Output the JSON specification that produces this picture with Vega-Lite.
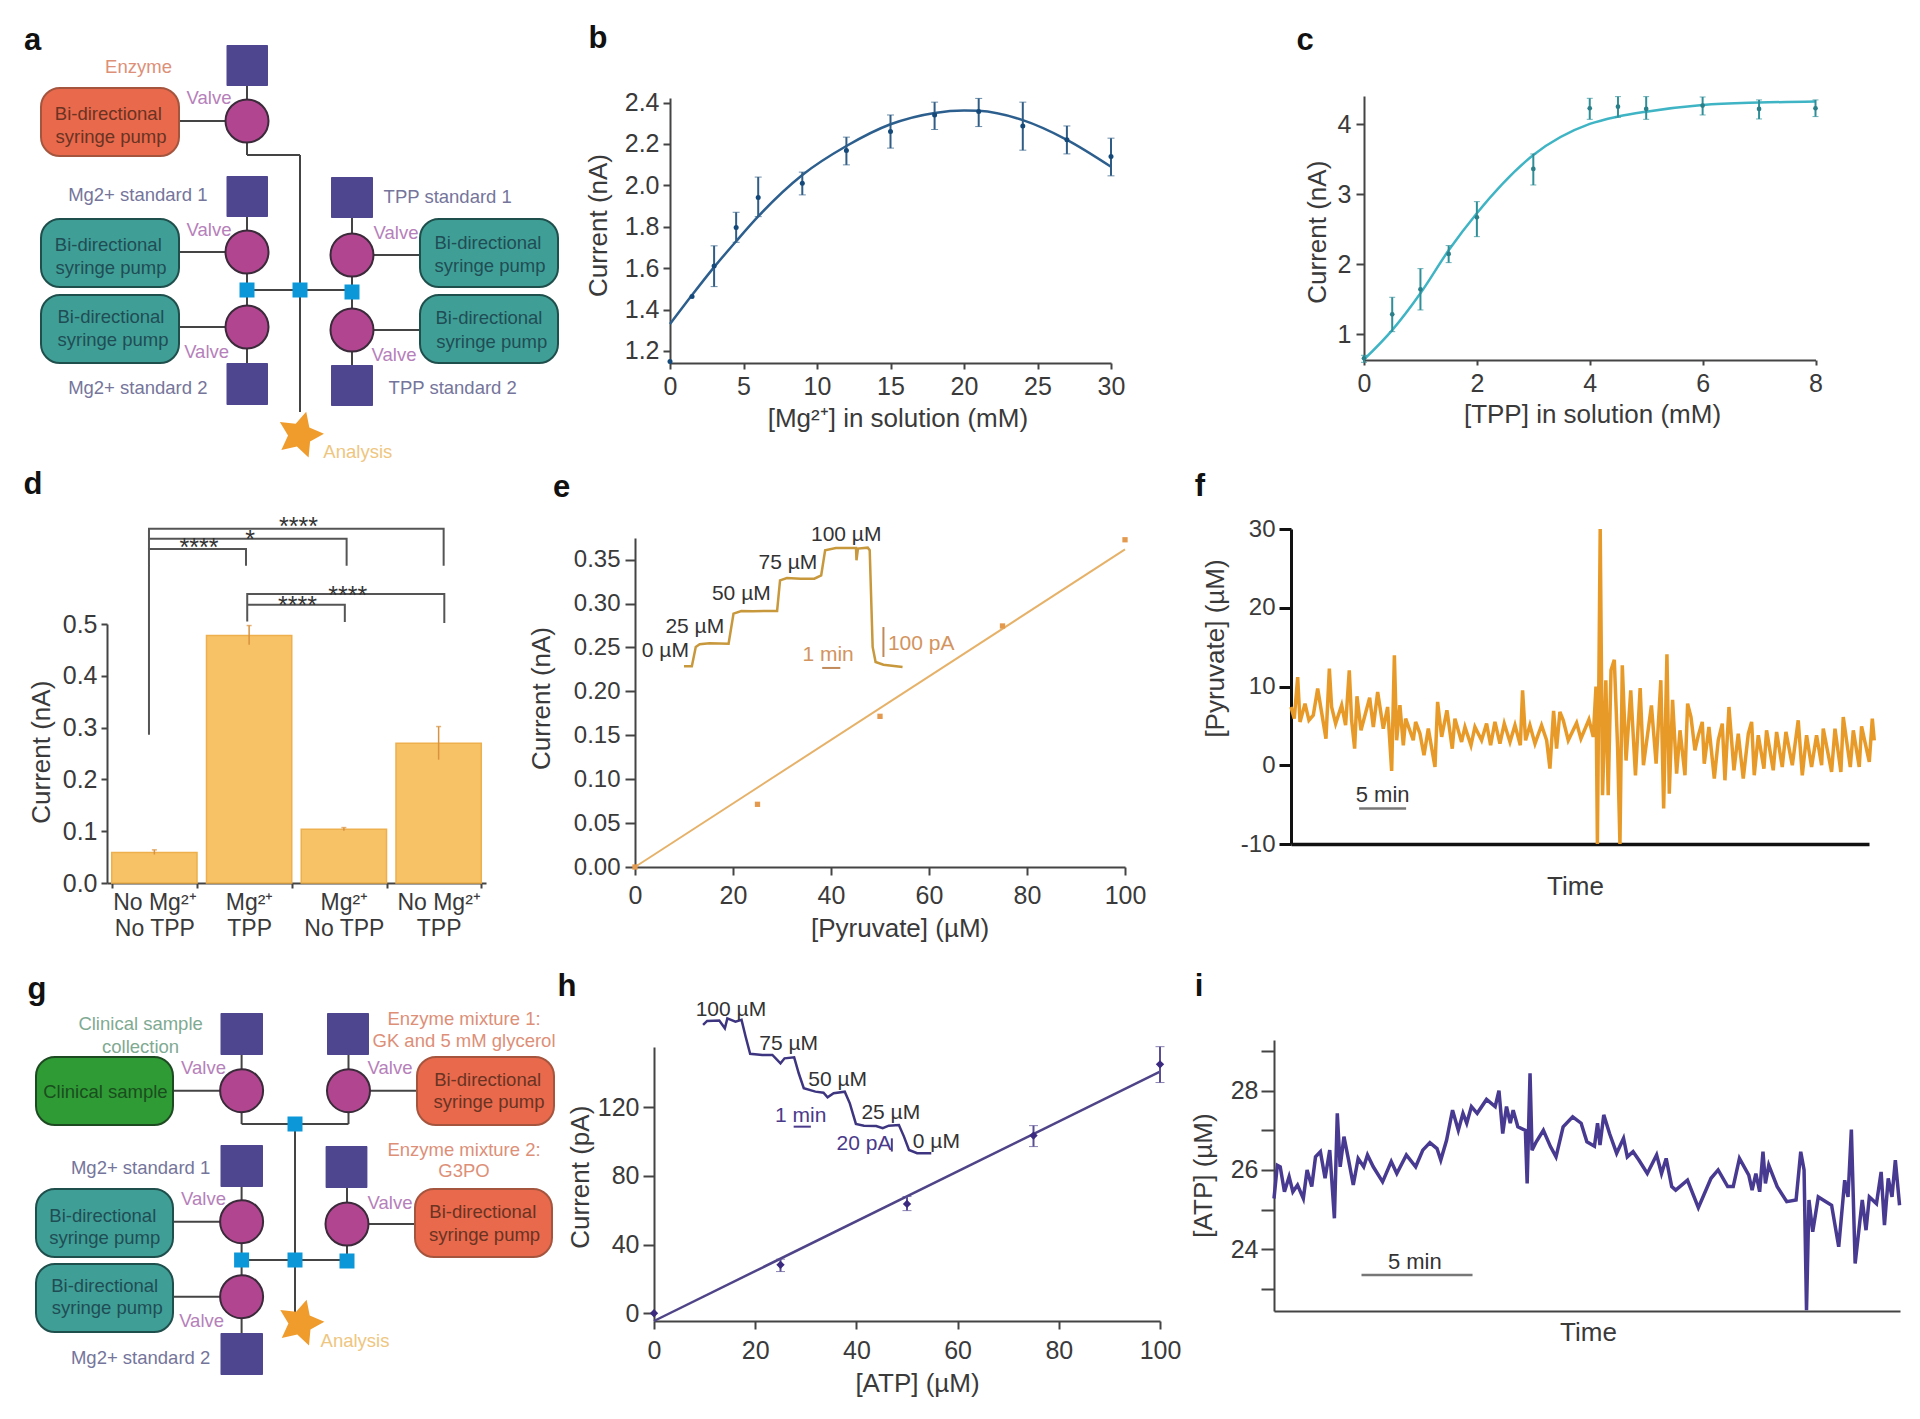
{"$schema":"https://vega.github.io/schema/vega-lite/v6.json","padding":0,"background":"white","bounds":"flush","spacing":{"row":87,"column":0},"columns":3,
"config":{"font":"Liberation Sans","view":{"stroke":null},"axis":{"grid":false,"labelFontSize":25,"titleFontSize":26,"titleFontWeight":"normal","labelColor":"#3a3a3a","titleColor":"#3a3a3a","domainColor":"#444","tickColor":"#444","domainWidth":2,"tickWidth":2,"labelOverlap":false,"labelFlush":false,"titleBaseline":"middle"},"text":{"font":"Liberation Sans"}},
"concat":[
{"width":630,"height":442,
"encoding":{"x":{"field":"x","type":"quantitative","scale":{"domain":[0,630]},"axis":null},"y":{"field":"y","type":"quantitative","scale":{"domain":[0,442],"reverse":true},"axis":null},
"color":{"field":"kind","type":"nominal","legend":null,"scale":{"domain":["enzyme pump","standard pump","sample pump","reagent","valve","junction","star","link","text valve","text enzyme","text standard","text analysis","text sample","text teal","text red","text green","letter"],"range":["#e9694c","#3f9f96","#2f9b35","#4e4790","#b2458f","#0b97d8","#f09c2d","#444444","#b680ba","#dd8f78","#75759b","#eec67f","#7faa92","#1f4d55","#6a3322","#1a4d1e","#111111"]}}},
"layer":[
{"data":{"values":[{"kind":"link","x":179,"x2":226,"y":121,"y2":121},{"kind":"link","x":247,"x2":247,"y":86,"y2":100},{"kind":"link","x":247,"x2":247,"y":142,"y2":155},{"kind":"link","x":247,"x2":300,"y":155,"y2":155},{"kind":"link","x":300,"x2":300,"y":155,"y2":412},{"kind":"link","x":247,"x2":352,"y":290,"y2":290},{"kind":"link","x":247,"x2":247,"y":272,"y2":310},{"kind":"link","x":352,"x2":352,"y":272,"y2":312},{"kind":"link","x":247,"x2":247,"y":217,"y2":232},{"kind":"link","x":352,"x2":352,"y":218,"y2":235},{"kind":"link","x":179,"x2":226,"y":252,"y2":252},{"kind":"link","x":179,"x2":226,"y":327,"y2":327},{"kind":"link","x":373,"x2":420,"y":255,"y2":255},{"kind":"link","x":373,"x2":420,"y":330,"y2":330},{"kind":"link","x":247,"x2":247,"y":348,"y2":363},{"kind":"link","x":352,"x2":352,"y":350,"y2":365}]},"mark":{"type":"rule","strokeWidth":2},"encoding":{"x2":{"field":"x2"},"y2":{"field":"y2"}}},
{"data":{"values":[{"kind":"enzyme pump","x":41,"x2":179,"y":88,"y2":156},{"kind":"standard pump","x":41,"x2":179,"y":219,"y2":287},{"kind":"standard pump","x":41,"x2":179,"y":295,"y2":363},{"kind":"standard pump","x":420,"x2":558,"y":219,"y2":287},{"kind":"standard pump","x":420,"x2":558,"y":295,"y2":363}]},"mark":{"type":"rect","cornerRadius":19,"strokeWidth":2},"encoding":{"x2":{"field":"x2"},"y2":{"field":"y2"},"stroke":{"field":"kind","type":"nominal","legend":null,"scale":{"domain":["enzyme pump","standard pump","sample pump","reagent"],"range":["#a5553e","#1f4f4c","#1e4a22","#3c3872"]}}}},
{"data":{"values":[{"kind":"reagent","x":226.5,"x2":268,"y":45,"y2":86},{"kind":"reagent","x":226.5,"x2":268,"y":176,"y2":217},{"kind":"reagent","x":226.5,"x2":268,"y":363,"y2":405},{"kind":"reagent","x":331,"x2":373,"y":177,"y2":218},{"kind":"reagent","x":331,"x2":373,"y":365,"y2":406}]},"mark":{"type":"rect","cornerRadius":1},"encoding":{"x2":{"field":"x2"},"y2":{"field":"y2"}}},
{"data":{"values":[{"kind":"valve","x":247,"y":121},{"kind":"valve","x":247,"y":252},{"kind":"valve","x":247,"y":327},{"kind":"valve","x":352,"y":255},{"kind":"valve","x":352,"y":330}]},"mark":{"type":"point","shape":"circle","filled":true,"opacity":1,"size":1850,"stroke":"#3a2a3a","strokeWidth":2}},
{"data":{"values":[{"kind":"junction","x":247,"y":290},{"kind":"junction","x":300,"y":290},{"kind":"junction","x":352,"y":292}]},"mark":{"type":"point","shape":"square","filled":true,"opacity":1,"size":225}},
{"data":{"values":[{"kind":"star","x":300,"y":435}]},"mark":{"type":"point","shape":"M.259,-.966L.389,-.315L.999,-.052L.419,.272L.358,.934L-.129,.483L-.777,.629L-.499,.026L-.839,-.545L-.179,-.467Z","filled":true,"opacity":1,"size":2304}},
{"data":{"values":[{"kind":"text enzyme","x":138.5,"y":66.7,"label":"Enzyme"},{"kind":"text valve","x":209,"y":97.7,"label":"Valve"},{"kind":"text red","x":108.3,"y":114.3,"label":"Bi-directional"},{"kind":"text red","x":111,"y":136.7,"label":"syringe pump"},{"kind":"text standard","x":137.8,"y":195,"label":"Mg2+ standard 1"},{"kind":"text valve","x":209,"y":230,"label":"Valve"},{"kind":"text teal","x":108.3,"y":245,"label":"Bi-directional"},{"kind":"text teal","x":111,"y":267.7,"label":"syringe pump"},{"kind":"text standard","x":447.7,"y":196.7,"label":"TPP standard 1"},{"kind":"text valve","x":396,"y":233.3,"label":"Valve"},{"kind":"text teal","x":488,"y":243.3,"label":"Bi-directional"},{"kind":"text teal","x":490,"y":265.7,"label":"syringe pump"},{"kind":"text teal","x":111,"y":316.7,"label":"Bi-directional"},{"kind":"text teal","x":113,"y":340,"label":"syringe pump"},{"kind":"text valve","x":206.6,"y":351.7,"label":"Valve"},{"kind":"text standard","x":137.8,"y":388.3,"label":"Mg2+ standard 2"},{"kind":"text teal","x":489,"y":318.3,"label":"Bi-directional"},{"kind":"text teal","x":491.7,"y":341.7,"label":"syringe pump"},{"kind":"text valve","x":394,"y":355,"label":"Valve"},{"kind":"text standard","x":452.7,"y":388.3,"label":"TPP standard 2"},{"kind":"text analysis","x":357.8,"y":451.7,"label":"Analysis"}]},"mark":{"type":"text","fontSize":18.5,"baseline":"middle"},"encoding":{"text":{"field":"label"}}},
{"data":{"values":[{"kind":"letter","x":32.5,"y":41,"label":"a"}]},"mark":{"type":"text","fontSize":31,"fontWeight":"bold","baseline":"middle"},"encoding":{"text":{"field":"label"}}}
]},
{"width":640,"height":363,
"encoding":{"x":{"field":"x","type":"quantitative","scale":{"domain":[0,30],"range":[40,481]},"axis":{"values":[0,5,10,15,20,25,30],"title":"[Mg²⁺] in solution (mM)","titleX":267.4,"titleY":55,"tickSize":6,"labelPadding":5}},"y":{"field":"y","type":"quantitative","scale":{"domain":[1.142,2.422],"range":[363,98]},"axis":{"values":[1.2,1.4,1.6,1.8,2.0,2.2,2.4],"format":".1f","title":"Current (nA)","offset":-40,"titleX":-72,"titleY":225,"tickSize":7,"labelPadding":4}}},
"layer":[
{"data":{"values":[{"x":0,"y":1.33},{"x":1.5,"y":1.47},{"x":3,"y":1.605},{"x":4.5,"y":1.73},{"x":6,"y":1.85},{"x":9,"y":2.05},{"x":12,"y":2.19},{"x":15,"y":2.295},{"x":18,"y":2.35},{"x":20,"y":2.362},{"x":21,"y":2.36},{"x":24,"y":2.315},{"x":27,"y":2.22},{"x":30,"y":2.09}]},"mark":{"type":"line","color":"#2d5f8e","strokeWidth":2.5,"interpolate":"monotone"}},
{"data":{"values":[{"x":3,"y":1.511,"y2":1.708},{"x":4.5,"y":1.725,"y2":1.87},{"x":6,"y":1.849,"y2":2.04},{"x":9,"y":1.954,"y2":2.064},{"x":12,"y":2.099,"y2":2.233},{"x":15,"y":2.18,"y2":2.34},{"x":18,"y":2.27,"y2":2.402},{"x":21,"y":2.284,"y2":2.42},{"x":24,"y":2.17,"y2":2.402},{"x":27,"y":2.152,"y2":2.287},{"x":30,"y":2.046,"y2":2.228}]},"mark":{"type":"errorbar","ticks":{"size":7,"color":"#2f5d85"},"rule":{"color":"#2f5d85","strokeWidth":2}},"encoding":{"y2":{"field":"y2"}}},
{"data":{"values":[{"x":0,"y":1.149},{"x":1.5,"y":1.463},{"x":3,"y":1.61},{"x":4.5,"y":1.796},{"x":6,"y":1.941},{"x":9,"y":2.01},{"x":12,"y":2.168},{"x":15,"y":2.26},{"x":18,"y":2.34},{"x":21,"y":2.357},{"x":24,"y":2.287},{"x":27,"y":2.22},{"x":30,"y":2.139}]},"mark":{"type":"point","filled":true,"opacity":1,"color":"#14497a","size":25}},
{"data":{"values":[{"x":-4.9,"y":2.708,"label":"b"}]},"mark":{"type":"text","fontSize":31,"fontWeight":"bold","baseline":"middle","color":"#111"},"encoding":{"text":{"field":"label"}}}
]},
{"width":650,"height":360,
"encoding":{"x":{"field":"x","type":"quantitative","scale":{"domain":[0,8],"range":[94,545.5]},"axis":{"values":[0,2,4,6,8],"title":"[TPP] in solution (mM)","titleX":322,"titleY":54,"tickSize":5,"labelPadding":6}},"y":{"field":"y","type":"quantitative","scale":{"domain":[0.633,4.404],"range":[360,96]},"axis":{"values":[1,2,3,4],"format":"d","title":"Current (nA)","offset":-94,"titleX":-47,"titleY":231.7,"tickSize":8,"labelPadding":5}}},
"layer":[
{"data":{"values":[{"x":0,"y":0.64},{"x":0.5,"y":1.06},{"x":1,"y":1.586},{"x":1.5,"y":2.2},{"x":2,"y":2.73},{"x":3,"y":3.56},{"x":4,"y":4.005},{"x":4.5,"y":4.11},{"x":5,"y":4.18},{"x":6,"y":4.276},{"x":7,"y":4.31},{"x":8,"y":4.324}]},"mark":{"type":"line","color":"#3fb4c4","strokeWidth":2.5,"interpolate":"monotone"}},
{"data":{"values":[{"x":0,"y":0.6,"y2":0.7},{"x":0.5,"y":1.038,"y2":1.529},{"x":1,"y":1.348,"y2":1.938},{"x":1.5,"y":2.024,"y2":2.267},{"x":2,"y":2.395,"y2":2.895},{"x":3,"y":3.133,"y2":3.576},{"x":4,"y":4.071,"y2":4.371},{"x":4.5,"y":4.1,"y2":4.395},{"x":5,"y":4.071,"y2":4.395},{"x":6,"y":4.133,"y2":4.39},{"x":7,"y":4.076,"y2":4.348},{"x":8,"y":4.11,"y2":4.348}]},"mark":{"type":"errorbar","ticks":{"size":6,"color":"#2f8f98"},"rule":{"color":"#2f8f98","strokeWidth":2}},"encoding":{"y2":{"field":"y2"}}},
{"data":{"values":[{"x":0,"y":0.657},{"x":0.5,"y":1.286},{"x":1,"y":1.643},{"x":1.5,"y":2.148},{"x":2,"y":2.671},{"x":3,"y":3.362},{"x":4,"y":4.229},{"x":4.5,"y":4.252},{"x":5,"y":4.219},{"x":6,"y":4.267},{"x":7,"y":4.219},{"x":8,"y":4.229}]},"mark":{"type":"point","filled":true,"opacity":1,"color":"#2a7f88","size":22}},
{"data":{"values":[{"x":-1.045,"y":5.19,"label":"c"}]},"mark":{"type":"text","fontSize":31,"fontWeight":"bold","baseline":"middle","color":"#111"},"encoding":{"text":{"field":"label"}}}
]},
{"width":630,"height":354,"resolve":{"scale":{"x":"independent"}},
"encoding":{"y":{"field":"y","type":"quantitative","scale":{"domain":[0,0.5],"range":[354,95]},"axis":{"values":[0,0.1,0.2,0.3,0.4,0.5],"format":".1f","title":"Current (nA)","offset":-107,"titleX":-65.5,"titleY":222.7,"tickSize":6,"labelPadding":4}}},
"layer":[
{"data":{"values":[{"c":"No Mg²⁺|No TPP","y":0.059},{"c":"Mg²⁺|TPP","y":0.478},{"c":"Mg²⁺|No TPP","y":0.104},{"c":"No Mg²⁺|TPP","y":0.27}]},"mark":{"type":"bar","fill":"#f7c266","stroke":"#edb04c","strokeWidth":1.5},"encoding":{"x":{"field":"c","type":"nominal","sort":null,"scale":{"domain":["No Mg²⁺|No TPP","Mg²⁺|TPP","Mg²⁺|No TPP","No Mg²⁺|TPP"],"range":[107,486],"paddingInner":0.1,"paddingOuter":0.05},"axis":{"title":null,"labelExpr":"split(datum.label,'|')","labelAngle":0,"tickBand":"extent","tickSize":5,"labelFontSize":23,"labelLineHeight":26,"labelPadding":3,"labelLimit":0}}}},
{"data":{"values":[{"q":0.5,"y":0.055,"y2":0.064},{"q":1.5,"y":0.46,"y2":0.497},{"q":2.5,"y":0.101,"y2":0.107},{"q":3.5,"y":0.238,"y2":0.302}]},"mark":{"type":"rule","color":"#d9923f","strokeWidth":1.5},"encoding":{"x":{"field":"q","type":"quantitative","scale":{"domain":[0,4],"range":[107,486]},"axis":null},"y2":{"field":"y2"}}},
{"data":{"values":[{"q":0.5,"y":0.064},{"q":1.5,"y":0.497},{"q":2.5,"y":0.107},{"q":3.5,"y":0.302}]},"mark":{"type":"tick","orient":"horizontal","color":"#d9923f","size":5,"thickness":1.5},"encoding":{"x":{"field":"q","type":"quantitative","scale":{"domain":[0,4],"range":[107,486]},"axis":null}}},
{"data":{"values":[{"id":1,"n":1,"q":0.443,"y":0.2863},{"id":1,"n":2,"q":0.443,"y":0.6448},{"id":1,"n":3,"q":1.467,"y":0.6448},{"id":1,"n":4,"q":1.467,"y":0.6126},{"id":2,"n":1,"q":0.443,"y":0.6647},{"id":2,"n":2,"q":2.529,"y":0.6647},{"id":2,"n":3,"q":2.529,"y":0.6126},{"id":3,"n":1,"q":0.443,"y":0.6448},{"id":3,"n":2,"q":0.443,"y":0.684},{"id":3,"n":3,"q":3.553,"y":0.684},{"id":3,"n":4,"q":3.553,"y":0.6126},{"id":4,"n":1,"q":1.48,"y":0.505},{"id":4,"n":2,"q":1.48,"y":0.558},{"id":4,"n":3,"q":3.56,"y":0.558},{"id":4,"n":4,"q":3.56,"y":0.502},{"id":5,"n":1,"q":1.48,"y":0.5373},{"id":5,"n":2,"q":2.51,"y":0.5373},{"id":5,"n":3,"q":2.51,"y":0.504}]},"mark":{"type":"line","color":"#555","strokeWidth":2},"encoding":{"x":{"field":"q","type":"quantitative","scale":{"domain":[0,4],"range":[107,486]},"axis":null},"detail":{"field":"id"},"order":{"field":"n"}}},
{"data":{"values":[{"q":2.02,"y":0.688,"s":"****"},{"q":1.51,"y":0.663,"s":"*"},{"q":0.97,"y":0.646,"s":"****"},{"q":2.54,"y":0.555,"s":"****"},{"q":2.01,"y":0.534,"s":"****"}]},"mark":{"type":"text","fontSize":25,"color":"#333"},"encoding":{"x":{"field":"q","type":"quantitative","scale":{"domain":[0,4],"range":[107,486]},"axis":null},"text":{"field":"s"}}},
{"data":{"values":[{"q":-0.781,"y":0.769,"s":"d"}]},"mark":{"type":"text","fontSize":31,"fontWeight":"bold","baseline":"middle","color":"#111"},"encoding":{"x":{"field":"q","type":"quantitative","scale":{"domain":[0,4],"range":[107,486]},"axis":null},"text":{"field":"s"}}}
]},
{"width":640,"height":338,
"encoding":{"x":{"field":"x","type":"quantitative","scale":{"domain":[0,100],"range":[5,495]},"axis":{"values":[0,20,40,60,80,100],"title":"[Pyruvate] (µM)","titleX":269.6,"titleY":61,"tickSize":8,"labelPadding":8}},"y":{"field":"y","type":"quantitative","scale":{"domain":[0,0.3747],"range":[338,9]},"axis":{"values":[0,0.05,0.1,0.15,0.2,0.25,0.3,0.35],"format":".2f","title":"Current (nA)","offset":-5,"titleX":-93.3,"titleY":169,"tickSize":10,"labelPadding":5,"labelFontSize":24}}},
"layer":[
{"data":{"values":[{"x":0,"y":0},{"x":100,"y":0.3618}]},"mark":{"type":"line","color":"#e6b26a","strokeWidth":2}},
{"data":{"values":[{"x":0,"y":0},{"x":25,"y":0.0714},{"x":50,"y":0.1716},{"x":75,"y":0.2745},{"x":100,"y":0.3727}]},"mark":{"type":"point","shape":"square","filled":true,"opacity":1,"color":"#e39a4e","size":28}},
{"data":{"values":[{"x":10,"y":0.2286},{"x":11.6,"y":0.2286},{"x":12.4,"y":0.2506},{"x":13.2,"y":0.2536},{"x":15.2,"y":0.2547},{"x":19.1,"y":0.2544},{"x":20.1,"y":0.2885},{"x":21.7,"y":0.2916},{"x":24.1,"y":0.2912},{"x":26.5,"y":0.2916},{"x":29,"y":0.2916},{"x":29.6,"y":0.3265},{"x":31,"y":0.3292},{"x":33.8,"y":0.3284},{"x":36.6,"y":0.3284},{"x":38,"y":0.3322},{"x":38.8,"y":0.3607},{"x":41,"y":0.3633},{"x":44.3,"y":0.3633},{"x":45.1,"y":0.3633},{"x":45.2,"y":0.3493},{"x":45.5,"y":0.3626},{"x":47.5,"y":0.3637},{"x":47.9,"y":0.3607},{"x":48.5,"y":0.2506},{"x":49.1,"y":0.2335},{"x":50.7,"y":0.2304},{"x":54.6,"y":0.2278}]},"mark":{"type":"line","color":"#c8983c","strokeWidth":2.5}},
{"data":{"values":[{"x":38.2,"x2":41.9,"y":0.2267,"y2":0.2267},{"x":50.7,"x2":50.7,"y":0.2733,"y2":0.2392}]},"mark":{"type":"rule","color":"#c08a5a","strokeWidth":2},"encoding":{"x2":{"field":"x2"},"y2":{"field":"y2"}}},
{"data":{"values":[{"x":6.2,"y":0.246,"label":"0 µM"},{"x":12.2,"y":0.2733,"label":"25 µM"},{"x":21.7,"y":0.3106,"label":"50 µM"},{"x":31.2,"y":0.3466,"label":"75 µM"},{"x":43.1,"y":0.3778,"label":"100 µM"}]},"mark":{"type":"text","fontSize":21,"baseline":"middle","color":"#333"},"encoding":{"text":{"field":"label"}}},
{"data":{"values":[{"x":39.4,"y":0.241,"label":"1 min"},{"x":58.4,"y":0.2544,"label":"100 pA"}]},"mark":{"type":"text","fontSize":21,"baseline":"middle","color":"#d3945e"},"encoding":{"text":{"field":"label"}}},
{"data":{"values":[{"x":-15,"y":0.4313,"label":"e"}]},"mark":{"type":"text","fontSize":31,"fontWeight":"bold","baseline":"middle","color":"#111"},"encoding":{"text":{"field":"label"}}}
]},
{"width":650,"height":315,
"encoding":{"x":{"field":"x","type":"quantitative","scale":{"domain":[0,61.5],"range":[21,599]},"axis":{"values":[],"labels":false,"ticks":false,"title":"Time","titleX":305,"titleY":42,"domainColor":"#111","domainWidth":3.5}},"y":{"field":"y","type":"quantitative","scale":{"domain":[-10,30],"range":[315,0]},"axis":{"values":[-10,0,10,20,30],"labelExpr":"''+datum.value","title":"[Pyruvate] (µM)","offset":-21,"titleX":-75.6,"titleY":119,"tickSize":12,"tickColor":"#111","tickWidth":3,"domainColor":"#111","domainWidth":3,"labelPadding":4,"labelFontSize":24}}},
"layer":[
{"data":{"values":[{"x":0,"y":7.4},{"x":0.35,"y":5.92},{"x":0.71,"y":11.2},{"x":0.96,"y":5.5},{"x":1.49,"y":7.83},{"x":1.91,"y":5.71},{"x":2.37,"y":6.35},{"x":2.84,"y":9.73},{"x":3.19,"y":7.19},{"x":3.72,"y":3.38},{"x":4.08,"y":12.27},{"x":4.32,"y":7.4},{"x":4.75,"y":5.29},{"x":5.39,"y":7.62},{"x":5.81,"y":5.08},{"x":6.2,"y":12.06},{"x":6.45,"y":5.71},{"x":6.77,"y":2.11},{"x":7.02,"y":8.76},{"x":7.45,"y":4.44},{"x":7.87,"y":6.35},{"x":8.37,"y":8.59},{"x":8.76,"y":4.86},{"x":9.22,"y":9.31},{"x":9.82,"y":4.65},{"x":10.28,"y":7.4},{"x":10.71,"y":-0.72},{"x":11,"y":13.97},{"x":11.24,"y":3.17},{"x":11.59,"y":7.62},{"x":11.95,"y":2.54},{"x":12.2,"y":5.92},{"x":13.01,"y":3.17},{"x":13.26,"y":5.5},{"x":13.72,"y":4.02},{"x":14.15,"y":1.27},{"x":14.61,"y":4.65},{"x":15.32,"y":-0.22},{"x":15.6,"y":8.04},{"x":16.03,"y":3.6},{"x":16.59,"y":6.98},{"x":17.16,"y":2.11},{"x":17.44,"y":5.92},{"x":18.15,"y":2.96},{"x":18.51,"y":4.86},{"x":19.15,"y":2.54},{"x":19.57,"y":4.86},{"x":20.28,"y":3.17},{"x":20.81,"y":5.29},{"x":21.24,"y":2.54},{"x":21.7,"y":5.5},{"x":22.23,"y":2.75},{"x":22.69,"y":5.29},{"x":23.3,"y":2.96},{"x":23.83,"y":5.08},{"x":24.4,"y":2.54},{"x":24.64,"y":9.52},{"x":24.96,"y":3.17},{"x":25.42,"y":5.08},{"x":25.96,"y":2.75},{"x":26.66,"y":5.08},{"x":27.2,"y":3.17},{"x":27.55,"y":-0.43},{"x":27.94,"y":6.9},{"x":28.26,"y":2.11},{"x":28.61,"y":6.77},{"x":28.97,"y":5.71},{"x":29.5,"y":3.17},{"x":30.39,"y":5.37},{"x":30.85,"y":3.38},{"x":31.7,"y":5.8},{"x":32.16,"y":3.6},{"x":32.45,"y":10},{"x":32.6,"y":-10},{"x":32.9,"y":30},{"x":33.15,"y":-3.8},{"x":33.5,"y":10.8},{"x":33.75,"y":-3.8},{"x":34.05,"y":12.1},{"x":34.4,"y":13.4},{"x":34.75,"y":2.3},{"x":35,"y":-10},{"x":35.25,"y":12.7},{"x":35.65,"y":0.6},{"x":36.15,"y":9.5},{"x":36.65,"y":-1.3},{"x":37.15,"y":9.8},{"x":37.5,"y":0},{"x":38.35,"y":7.6},{"x":38.85,"y":0.2},{"x":39.35,"y":10.8},{"x":39.65,"y":-5.5},{"x":40,"y":14.1},{"x":40.25,"y":-3.6},{"x":40.6,"y":8.3},{"x":41.03,"y":-1.06},{"x":41.39,"y":4.44},{"x":41.92,"y":-1.27},{"x":42.2,"y":7.83},{"x":42.56,"y":6.13},{"x":42.98,"y":1.9},{"x":43.34,"y":3.8},{"x":43.76,"y":5.5},{"x":43.97,"y":0.2},{"x":44.47,"y":4.86},{"x":45.04,"y":-1.7},{"x":45.46,"y":3.17},{"x":45.89,"y":5.29},{"x":46.17,"y":-1.91},{"x":46.6,"y":7.4},{"x":47.13,"y":-0.64},{"x":47.59,"y":4.02},{"x":48.12,"y":-1.7},{"x":48.66,"y":4.02},{"x":49.01,"y":5.5},{"x":49.29,"y":-1.27},{"x":49.72,"y":3.81},{"x":50.32,"y":-0.43},{"x":50.6,"y":4.44},{"x":51.31,"y":-0.64},{"x":51.67,"y":4.23},{"x":52.27,"y":-0.22},{"x":52.66,"y":4.23},{"x":53.34,"y":0},{"x":53.97,"y":5.71},{"x":54.4,"y":-1.27},{"x":54.86,"y":3.81},{"x":55.39,"y":-0.22},{"x":55.92,"y":3.81},{"x":56.46,"y":0},{"x":56.63,"y":4.65},{"x":57.52,"y":-0.85},{"x":57.88,"y":4.65},{"x":58.51,"y":-0.85},{"x":58.76,"y":6.13},{"x":59.51,"y":-0.22},{"x":59.83,"y":4.44},{"x":60.46,"y":-0.22},{"x":60.71,"y":4.95},{"x":61.53,"y":0.42},{"x":61.85,"y":5.92},{"x":62.06,"y":3.17}]},"mark":{"type":"line","color":"#e89a28","strokeWidth":3.5}},
{"data":{"values":[{"x":7.25,"x2":12.25,"y":-5.5,"y2":-5.5}]},"mark":{"type":"rule","color":"#777","strokeWidth":2.5},"encoding":{"x2":{"field":"x2"},"y2":{"field":"y2"}}},
{"data":{"values":[{"x":9.75,"y":-3.8,"label":"5 min"}]},"mark":{"type":"text","fontSize":22,"baseline":"middle","color":"#333"},"encoding":{"text":{"field":"label"}}},
{"data":{"values":[{"x":-9.68,"y":35.3,"label":"f"}]},"mark":{"type":"text","fontSize":31,"fontWeight":"bold","baseline":"middle","color":"#111"},"encoding":{"text":{"field":"label"}}}
]},
{"width":630,"height":449,
"encoding":{"x":{"field":"x","type":"quantitative","scale":{"domain":[0,630]},"axis":null},"y":{"field":"y","type":"quantitative","scale":{"domain":[970,1419],"reverse":true},"axis":null},
"color":{"field":"kind","type":"nominal","legend":null,"scale":{"domain":["enzyme pump","standard pump","sample pump","reagent","valve","junction","star","link","text valve","text enzyme","text standard","text analysis","text sample","text teal","text red","text green","letter"],"range":["#e9694c","#3f9f96","#2f9b35","#4e4790","#b2458f","#0b97d8","#f09c2d","#444444","#b680ba","#d5877a","#75759b","#eec67f","#7faa92","#1f4d55","#6a3322","#1a4d1e","#111111"]}}},
"layer":[
{"data":{"values":[{"kind":"link","x":173,"x2":220,"y":1090.7,"y2":1090.7},{"kind":"link","x":370,"x2":417,"y":1090.7,"y2":1090.7},{"kind":"link","x":241.6,"x2":241.6,"y":1055,"y2":1124},{"kind":"link","x":348.5,"x2":348.5,"y":1055,"y2":1124},{"kind":"link","x":241.6,"x2":348.5,"y":1124,"y2":1124},{"kind":"link","x":295,"x2":295,"y":1124,"y2":1313},{"kind":"link","x":241.6,"x2":241.6,"y":1187,"y2":1333},{"kind":"link","x":347,"x2":347,"y":1188,"y2":1260},{"kind":"link","x":241.6,"x2":347,"y":1260,"y2":1260},{"kind":"link","x":173,"x2":220,"y":1221.7,"y2":1221.7},{"kind":"link","x":368,"x2":415,"y":1224,"y2":1224},{"kind":"link","x":173,"x2":220,"y":1296.7,"y2":1296.7}]},"mark":{"type":"rule","strokeWidth":2},"encoding":{"x2":{"field":"x2"},"y2":{"field":"y2"}}},
{"data":{"values":[{"kind":"sample pump","x":36,"x2":173,"y":1057,"y2":1125},{"kind":"enzyme pump","x":417,"x2":554,"y":1057,"y2":1125},{"kind":"standard pump","x":36,"x2":173,"y":1189,"y2":1257},{"kind":"standard pump","x":36,"x2":173,"y":1264,"y2":1332},{"kind":"enzyme pump","x":415,"x2":552,"y":1189,"y2":1257}]},"mark":{"type":"rect","cornerRadius":19,"strokeWidth":2},"encoding":{"x2":{"field":"x2"},"y2":{"field":"y2"},"stroke":{"field":"kind","type":"nominal","legend":null,"scale":{"domain":["enzyme pump","standard pump","sample pump","reagent"],"range":["#a5553e","#1f4f4c","#1e4a22","#3c3872"]}}}},
{"data":{"values":[{"kind":"reagent","x":220.5,"x2":263,"y":1013,"y2":1055},{"kind":"reagent","x":327,"x2":369,"y":1013,"y2":1055},{"kind":"reagent","x":220.5,"x2":263,"y":1145,"y2":1187},{"kind":"reagent","x":220.5,"x2":263,"y":1333,"y2":1375},{"kind":"reagent","x":325.6,"x2":367.4,"y":1146,"y2":1188}]},"mark":{"type":"rect","cornerRadius":1},"encoding":{"x2":{"field":"x2"},"y2":{"field":"y2"}}},
{"data":{"values":[{"kind":"valve","x":241.6,"y":1090.7},{"kind":"valve","x":348.5,"y":1090.7},{"kind":"valve","x":241.6,"y":1221.7},{"kind":"valve","x":241.6,"y":1296.7},{"kind":"valve","x":347,"y":1224}]},"mark":{"type":"point","shape":"circle","filled":true,"opacity":1,"size":1850,"stroke":"#3a2a3a","strokeWidth":2}},
{"data":{"values":[{"kind":"junction","x":295,"y":1124},{"kind":"junction","x":241.6,"y":1260},{"kind":"junction","x":295,"y":1260},{"kind":"junction","x":347,"y":1261}]},"mark":{"type":"point","shape":"square","filled":true,"opacity":1,"size":225}},
{"data":{"values":[{"kind":"star","x":300.4,"y":1323}]},"mark":{"type":"point","shape":"M.259,-.966L.389,-.315L.999,-.052L.419,.272L.358,.934L-.129,.483L-.777,.629L-.499,.026L-.839,-.545L-.179,-.467Z","filled":true,"opacity":1,"size":2304}},
{"data":{"values":[{"kind":"text sample","x":140.6,"y":1024.3,"label":"Clinical sample"},{"kind":"text sample","x":140.6,"y":1046.7,"label":"collection"},{"kind":"text green","x":105.4,"y":1092.3,"label":"Clinical sample"},{"kind":"text enzyme","x":464,"y":1019,"label":"Enzyme mixture 1:"},{"kind":"text enzyme","x":464,"y":1040.7,"label":"GK and 5 mM glycerol"},{"kind":"text red","x":487.6,"y":1080,"label":"Bi-directional"},{"kind":"text red","x":489,"y":1102.3,"label":"syringe pump"},{"kind":"text valve","x":203.5,"y":1068.3,"label":"Valve"},{"kind":"text valve","x":390,"y":1068.3,"label":"Valve"},{"kind":"text standard","x":140.6,"y":1168.3,"label":"Mg2+ standard 1"},{"kind":"text enzyme","x":464,"y":1150,"label":"Enzyme mixture 2:"},{"kind":"text enzyme","x":464,"y":1171,"label":"G3PO"},{"kind":"text valve","x":203.5,"y":1199,"label":"Valve"},{"kind":"text valve","x":390,"y":1202.7,"label":"Valve"},{"kind":"text teal","x":102.8,"y":1215.7,"label":"Bi-directional"},{"kind":"text teal","x":104.7,"y":1238.3,"label":"syringe pump"},{"kind":"text red","x":482.8,"y":1212.3,"label":"Bi-directional"},{"kind":"text red","x":484.6,"y":1235,"label":"syringe pump"},{"kind":"text teal","x":104.7,"y":1286,"label":"Bi-directional"},{"kind":"text teal","x":107.3,"y":1308.3,"label":"syringe pump"},{"kind":"text valve","x":201.6,"y":1320.7,"label":"Valve"},{"kind":"text analysis","x":355,"y":1340.7,"label":"Analysis"},{"kind":"text standard","x":140.6,"y":1357.7,"label":"Mg2+ standard 2"}]},"mark":{"type":"text","fontSize":18.5,"baseline":"middle"},"encoding":{"text":{"field":"label"}}},
{"data":{"values":[{"kind":"letter","x":37,"y":990,"label":"g"}]},"mark":{"type":"text","fontSize":31,"fontWeight":"bold","baseline":"middle"},"encoding":{"text":{"field":"label"}}}
]},
{"width":640,"height":351,
"encoding":{"x":{"field":"x","type":"quantitative","scale":{"domain":[0,100],"range":[24,530]},"axis":{"values":[0,20,40,60,80,100],"title":"[ATP] (µM)","titleX":287,"titleY":62,"tickSize":8,"labelPadding":9}},"y":{"field":"y","type":"quantitative","scale":{"domain":[-4.5,155.1],"range":[351,77]},"axis":{"values":[0,40,80,120],"format":"d","title":"Current (pA)","offset":-24,"titleX":-73.4,"titleY":206.7,"tickSize":11,"labelPadding":4}}},
"layer":[
{"data":{"values":[{"x":0,"y":-4.5},{"x":100,"y":140.8}]},"mark":{"type":"line","color":"#4f4488","strokeWidth":2.5}},
{"data":{"values":[{"x":25,"y":24.3,"y2":31.5},{"x":50,"y":59.8,"y2":68},{"x":75,"y":97.1,"y2":109.3},{"x":100,"y":134.4,"y2":155.3}]},"mark":{"type":"errorbar","ticks":{"size":9,"color":"#5a4f92"},"rule":{"color":"#5a4f92","strokeWidth":2}},"encoding":{"y2":{"field":"y2"}}},
{"data":{"values":[{"x":0,"y":0},{"x":25,"y":28.2},{"x":50,"y":63.7},{"x":75,"y":103.5},{"x":100,"y":145}]},"mark":{"type":"point","shape":"diamond","filled":true,"opacity":1,"color":"#3b2a80","size":70}},
{"data":{"values":[{"x":9.7,"y":168},{"x":10.5,"y":170.3},{"x":12.9,"y":170.5},{"x":14,"y":166},{"x":14.5,"y":171.8},{"x":16.1,"y":169.9},{"x":17.3,"y":170.9},{"x":18.1,"y":161.2},{"x":19,"y":151.1},{"x":21.4,"y":150.5},{"x":23.4,"y":150.5},{"x":25,"y":145.6},{"x":25.8,"y":148.5},{"x":27.7,"y":149.1},{"x":28.6,"y":139.8},{"x":29.6,"y":131.1},{"x":31.9,"y":129.1},{"x":33.5,"y":128.5},{"x":34.3,"y":125.8},{"x":35.5,"y":128.2},{"x":37.7,"y":129.1},{"x":38.7,"y":122.3},{"x":39.9,"y":110.3},{"x":41.5,"y":109.3},{"x":43.9,"y":109.1},{"x":45.2,"y":107.8},{"x":46.4,"y":109.3},{"x":48.4,"y":109.7},{"x":49.4,"y":102.9},{"x":50.4,"y":95.1},{"x":52,"y":93.2},{"x":54.8,"y":93.2}]},"mark":{"type":"line","color":"#3d3580","strokeWidth":2.5}},
{"data":{"values":[{"x":27.6,"x2":31,"y":108.7,"y2":108.7},{"x":47,"x2":47,"y":101.9,"y2":94.2}]},"mark":{"type":"rule","color":"#4a3a8a","strokeWidth":2},"encoding":{"x2":{"field":"x2"},"y2":{"field":"y2"}}},
{"data":{"values":[{"x":15.2,"y":176.7,"label":"100 µM"},{"x":26.6,"y":156.9,"label":"75 µM"},{"x":36.3,"y":135.9,"label":"50 µM"},{"x":46.8,"y":116.9,"label":"25 µM"},{"x":55.8,"y":100,"label":"0 µM"}]},"mark":{"type":"text","fontSize":21,"baseline":"middle","color":"#333"},"encoding":{"text":{"field":"label"}}},
{"data":{"values":[{"x":29,"y":115.1,"label":"1 min"},{"x":41.5,"y":98.6,"label":"20 pA"}]},"mark":{"type":"text","fontSize":21,"baseline":"middle","color":"#4a3a8a"},"encoding":{"text":{"field":"label"}}},
{"data":{"values":[{"x":-17.2,"y":190,"label":"h"}]},"mark":{"type":"text","fontSize":31,"fontWeight":"bold","baseline":"middle","color":"#111"},"encoding":{"text":{"field":"label"}}}
]},
{"width":650,"height":341,
"encoding":{"x":{"field":"x","type":"quantitative","scale":{"domain":[0,28.19],"range":[4,630]},"axis":{"values":[],"labels":false,"ticks":false,"title":"Time","titleX":318,"titleY":21}},"y":{"field":"y","type":"quantitative","scale":{"domain":[22.44,29.28],"range":[341,70]},"axis":{"values":[23,24,25,26,27,28,29],"format":"d","labelExpr":"datum.value%2==0 ? datum.label : ''","title":"[ATP] (µM)","offset":-4,"titleX":-70.4,"titleY":205,"tickSize":13,"labelPadding":3,"encoding":{"ticks":{"update":{"x2":{"signal":"datum.value%2 ? -8 : -13"}}}}}}},
"layer":[
{"data":{"values":[{"x":0,"y":25.28},{"x":0.15,"y":26.12},{"x":0.28,"y":26.08},{"x":0.47,"y":25.45},{"x":0.68,"y":25.83},{"x":0.85,"y":25.45},{"x":1.06,"y":25.62},{"x":1.32,"y":25.28},{"x":1.49,"y":26},{"x":1.7,"y":25.58},{"x":1.87,"y":26.33},{"x":2.09,"y":26.46},{"x":2.3,"y":25.79},{"x":2.51,"y":26.5},{"x":2.72,"y":24.78},{"x":2.85,"y":27.43},{"x":2.98,"y":26.08},{"x":3.15,"y":26.84},{"x":3.36,"y":26.25},{"x":3.57,"y":25.62},{"x":3.79,"y":26.29},{"x":4.04,"y":26.08},{"x":4.21,"y":26.38},{"x":4.47,"y":26.08},{"x":4.89,"y":25.7},{"x":5.28,"y":26.21},{"x":5.53,"y":25.91},{"x":5.96,"y":26.38},{"x":6.38,"y":26.08},{"x":6.7,"y":26.5},{"x":7.02,"y":26.69},{"x":7.34,"y":26.54},{"x":7.51,"y":26.25},{"x":7.77,"y":26.75},{"x":8.04,"y":27.51},{"x":8.3,"y":27},{"x":8.51,"y":27.43},{"x":8.68,"y":27.18},{"x":8.89,"y":27.6},{"x":9.15,"y":27.43},{"x":9.57,"y":27.78},{"x":9.96,"y":27.6},{"x":10.13,"y":28},{"x":10.3,"y":26.92},{"x":10.47,"y":27.6},{"x":10.64,"y":27.18},{"x":10.77,"y":27.51},{"x":10.98,"y":27.09},{"x":11.32,"y":27},{"x":11.4,"y":25.66},{"x":11.53,"y":28.44},{"x":11.62,"y":26.5},{"x":11.81,"y":26.71},{"x":12.13,"y":27},{"x":12.45,"y":26.59},{"x":12.7,"y":26.33},{"x":13.02,"y":27.09},{"x":13.45,"y":27.34},{"x":13.83,"y":27.18},{"x":14.09,"y":26.71},{"x":14.43,"y":26.6},{"x":14.57,"y":27.18},{"x":14.68,"y":26.63},{"x":14.85,"y":27.39},{"x":15.11,"y":26.92},{"x":15.43,"y":26.42},{"x":15.74,"y":26.8},{"x":15.91,"y":26.33},{"x":16.17,"y":26.46},{"x":16.43,"y":26.25},{"x":16.81,"y":25.91},{"x":17.23,"y":26.38},{"x":17.45,"y":25.91},{"x":17.66,"y":26.29},{"x":17.91,"y":25.58},{"x":18.09,"y":25.49},{"x":18.62,"y":25.74},{"x":19.11,"y":25.05},{"x":19.68,"y":25.79},{"x":20,"y":26},{"x":20.43,"y":25.58},{"x":20.68,"y":25.58},{"x":20.96,"y":26.29},{"x":21.38,"y":25.87},{"x":21.53,"y":25.49},{"x":21.7,"y":25.91},{"x":21.87,"y":25.45},{"x":22.02,"y":26.46},{"x":22.13,"y":25.66},{"x":22.28,"y":26.12},{"x":22.66,"y":25.58},{"x":23.09,"y":25.2},{"x":23.51,"y":25.24},{"x":23.72,"y":26.46},{"x":23.87,"y":26},{"x":23.98,"y":22.46},{"x":24.09,"y":25.24},{"x":24.26,"y":24.44},{"x":24.51,"y":25.32},{"x":25.11,"y":25.11},{"x":25.43,"y":24.06},{"x":25.7,"y":25.74},{"x":25.85,"y":25.32},{"x":26,"y":27.02},{"x":26.17,"y":23.64},{"x":26.49,"y":25.24},{"x":26.66,"y":24.48},{"x":26.81,"y":25.32},{"x":27.13,"y":25.15},{"x":27.34,"y":25.95},{"x":27.49,"y":24.61},{"x":27.66,"y":25.79},{"x":27.83,"y":25.32},{"x":27.98,"y":26.25},{"x":28.17,"y":25.11}]},"mark":{"type":"line","color":"#483a90","strokeWidth":3.5}},
{"data":{"values":[{"x":3.94,"x2":8.94,"y":23.35,"y2":23.35}]},"mark":{"type":"rule","color":"#777","strokeWidth":2.5},"encoding":{"x2":{"field":"x2"},"y2":{"field":"y2"}}},
{"data":{"values":[{"x":6.34,"y":23.68,"label":"5 min"}]},"mark":{"type":"text","fontSize":22,"baseline":"middle","color":"#333"},"encoding":{"text":{"field":"label"}}},
{"data":{"values":[{"x":-3.38,"y":30.62,"label":"i"}]},"mark":{"type":"text","fontSize":31,"fontWeight":"bold","baseline":"middle","color":"#111"},"encoding":{"text":{"field":"label"}}}
]}
]}
